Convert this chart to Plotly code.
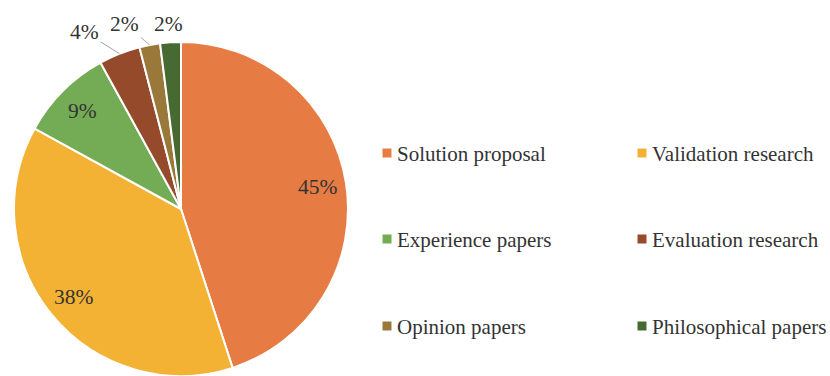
import math
import plotly.graph_objects as go

# Research type shares (percent)
categories = ["Solution proposal", "Validation research", "Experience papers",
              "Evaluation research", "Opinion papers", "Philosophical papers"]
shares = [45, 38, 9, 4, 2, 2]
colors = ["#E67C43", "#F3B234", "#74AB55", "#954A2C", "#99783A", "#466A31"]
label_inside = [True, True, True, False, False, False]

W, H = 830, 376
FONT = "Liberation Serif"
TEXT = "#333333"
LEADER = "#A6A6A6"

# pie box in pixels (left, right, top, bottom)
box_l, box_r, box_t, box_b = 11, 351, 42, 376
dom_x = [box_l / W, box_r / W]
dom_y = [(H - box_b) / H, (H - box_t) / H]
cx = (box_l + box_r) / 2
cy = (box_t + box_b) / 2
R = min(box_r - box_l, box_b - box_t) / 2

# pixel offsets of the outside labels from their slice edge, and leader visibility
outside_offsets = {3: (-35, -22, True), 4: (-25, -21, True), 5: (-2, -18, False)}


def paper(x, y):
    return x / W, (H - y) / H


fig = go.Figure(
    go.Pie(
        labels=categories,
        values=shares,
        sort=False,
        direction="clockwise",
        rotation=0,
        marker=dict(colors=colors, line=dict(color="white", width=2)),
        textinfo="none",
        hoverinfo="label+percent",
        domain=dict(x=dom_x, y=dom_y),
        showlegend=False,
    )
)

label_font = dict(family=FONT, size=21.5, color=TEXT)
legend_font = dict(family=FONT, size=21, color=TEXT)
annotations = []
total = sum(shares)
acc = 0
for i, v in enumerate(shares):
    mid = (acc + v / 2) / total * 2 * math.pi
    acc += v
    ux, uy = math.sin(mid), -math.cos(mid)
    txt = f"{round(v / total * 100)}%"
    if label_inside[i]:
        px, py = paper(cx + 0.83 * R * ux, cy + 0.83 * R * uy)
        annotations.append(dict(x=px, y=py, xref="paper", yref="paper", text=txt,
                                xanchor="center", yanchor="middle",
                                showarrow=False, font=label_font))
    else:
        ex, ey = paper(cx + R * ux, cy + R * uy)
        ox, oy, leader = outside_offsets[i]
        if leader:
            annotations.append(dict(x=ex, y=ey, xref="paper", yref="paper", text=txt,
                                    showarrow=True, arrowhead=0, arrowwidth=1,
                                    arrowcolor=LEADER, ax=ox, ay=oy, standoff=0,
                                    font=label_font))
        else:
            annotations.append(dict(x=ex, y=ey, xref="paper", yref="paper", text=txt,
                                    xanchor="center", yanchor="middle",
                                    showarrow=False, xshift=ox, yshift=-oy,
                                    font=label_font))

# legend: two columns, three rows
legend_cols = [387, 642]
legend_rows = [153, 239, 326]
sq = 9
shapes = []
for i, (name, col) in enumerate(zip(categories, colors)):
    mx = legend_cols[i % 2]
    my = legend_rows[i // 2]
    x0, y0 = paper(mx - sq / 2, my + sq / 2)
    x1, y1 = paper(mx + sq / 2, my - sq / 2)
    shapes.append(dict(type="rect", xref="paper", yref="paper", x0=x0, y0=y0, x1=x1, y1=y1,
                       fillcolor=col, line=dict(width=0)))
    tx, ty = paper(mx + 8, my + 1)
    annotations.append(dict(x=tx, y=ty, xref="paper", yref="paper", text=name,
                            xanchor="left", yanchor="middle", showarrow=False,
                            font=legend_font))

fig.update_layout(
    width=W,
    height=H,
    margin=dict(l=0, r=0, t=0, b=0),
    paper_bgcolor="white",
    plot_bgcolor="white",
    font=dict(family=FONT),
    annotations=annotations,
    shapes=shapes,
)

fig.write_html("out.html")
